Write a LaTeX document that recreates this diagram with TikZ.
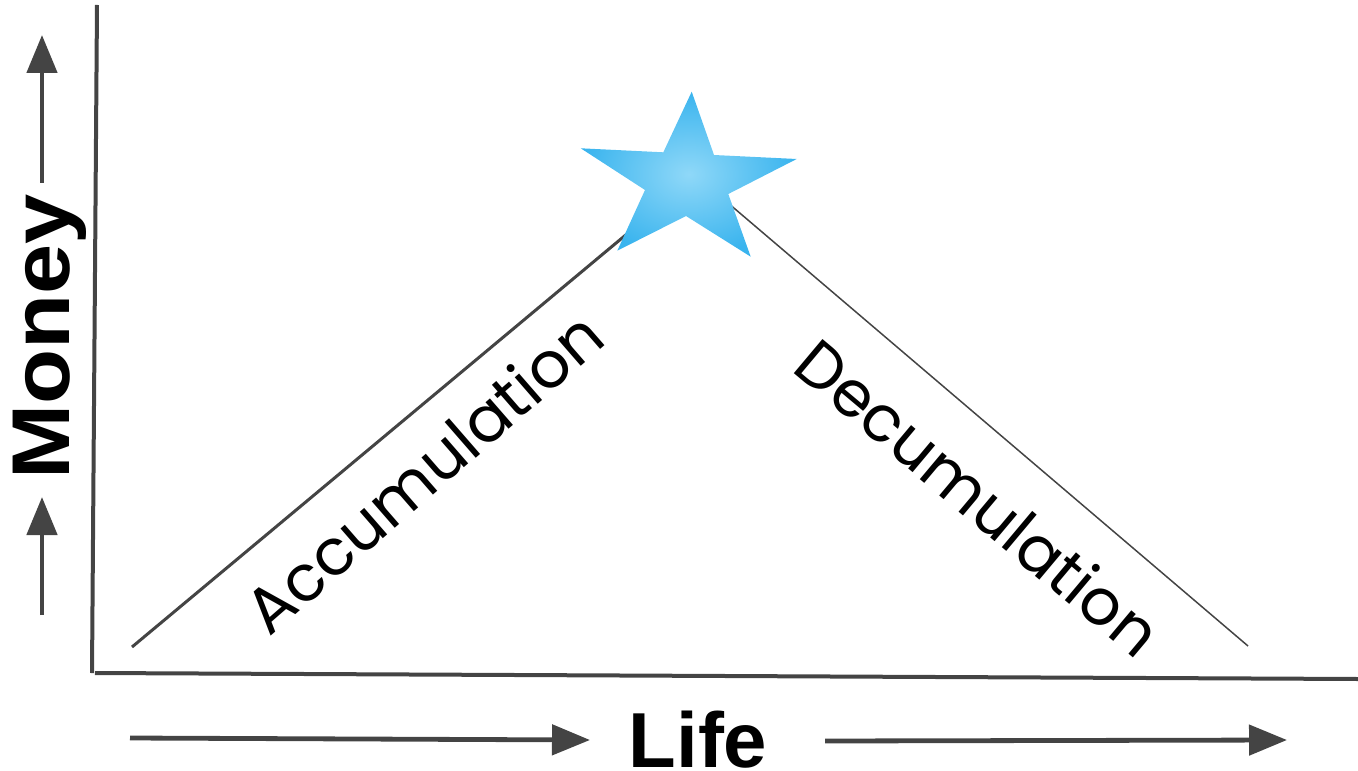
\documentclass[tikz,border=0pt]{standalone}
\usepackage{fontspec}
\setmainfont{Poppins}
\newfontfamily\boldsans{Liberation Sans}
\usetikzlibrary{arrows.meta}
\definecolor{axisgray}{HTML}{444444}
\definecolor{starin}{HTML}{8FD8F8}
\definecolor{starout}{HTML}{3AB4EE}
\tikzset{
  axisline/.style={draw=axisgray, line width=2pt},
  dirarrow/.style={draw=axisgray, line width=2.4pt, -{Triangle[length=19pt, width=15pt]}},
  lifelabel/.style={font=\boldsans\bfseries\fontsize{39pt}{39pt}\selectfont, inner sep=0pt},
  moneylabel/.style={font=\boldsans\bfseries\fontsize{41pt}{41pt}\selectfont, inner sep=0pt},
  phaselabel/.style={font=\fontsize{32pt}{32pt}\selectfont, inner sep=0pt},
}
\begin{document}
\begin{tikzpicture}[x=0.5pt, y=-0.5pt]
\useasboundingbox (0,0) rectangle (1358,770);
% axes
\coordinate (ytop) at (97,5);
\coordinate (origin) at (92,673);
\coordinate (xend) at (1358,679);
\draw[axisline] (ytop) -- (origin);
\draw[axisline] (95,673) -- (xend);
% Money arrows
\coordinate (mlow0) at (42,615);
\coordinate (mlow1) at (42,497);
\coordinate (mup0) at (42,183);
\coordinate (mup1) at (42,35);
\draw[dirarrow] (mlow0) -- (mlow1);
\draw[dirarrow] (mup0) -- (mup1);
\node[moneylabel, rotate=90] (money) at (50,337) {\scalebox{1.1}[1]{Money}};
% Life arrows
\coordinate (la0) at (130,738);
\coordinate (la1) at (590,740);
\coordinate (ra0) at (825,741);
\coordinate (ra1) at (1287,740);
\draw[dirarrow] (la0) -- (la1);
\draw[dirarrow] (ra0) -- (ra1);
\node[lifelabel] (life) at (698,740) {Life};
% curve lines
\coordinate (accstart) at (132,647);
\coordinate (peak) at (688,183);
\coordinate (decstart) at (728,203);
\coordinate (decend) at (1248,646);
\draw[draw=axisgray, line width=1.5pt] (accstart) -- (peak);
\draw[draw=axisgray, line width=0.75pt] (decstart) -- (decend);
% star
\shade[inner color=starin, outer color=starout]
  (691.7,91.7) -- (714,155) -- (796.7,159) -- (728.3,194) -- (750.7,256.7)
  -- (686,216) -- (617.3,250.7) -- (645,190) -- (580.7,148.3) -- (663.3,152.3) -- cycle;
\node[inner sep=0pt, minimum size=1pt] (star) at (687,173) {};
% labels
\node[phaselabel, rotate=41] (acc) at (423,472) {Accumulation};
\node[phaselabel, rotate=-40] (dec) at (979,497) {Decumulation};
\end{tikzpicture}
\end{document}
